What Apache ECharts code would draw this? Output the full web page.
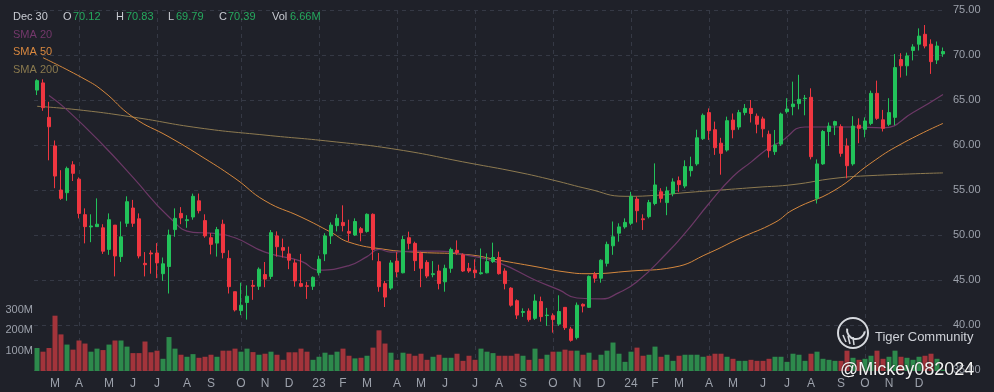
<!DOCTYPE html>
<html><head><meta charset="utf-8">
<script src="https://cdn.jsdelivr.net/npm/echarts@6/dist/echarts.min.js"></script>
<style>html,body{margin:0;padding:0;background:#1f2129;}#c{width:994px;height:392px;}</style>
</head><body><div id="c"></div>
<script>
// ---- categories: weekly candles, first week starting Mon 2022-02-07 ----
const firstWeek = Date.UTC(2022, 1, 7);
const weekCount = 152;
const weeks = [];
for (let k = 0; k < weekCount; k++) weeks.push(new Date(firstWeek + k * 7 * 86400000).toISOString().slice(0, 10));
const monthLetters = ['J','F','M','A','M','J','J','A','S','O','N','D'];

// ---- OHLC ----
const opens = [66.1,66.9,63.07,59.9,55.0,54.7,57.8,56.2,52.26,50.9,50.93,50.8,48.4,51.1,47.6,51.3,53.0,51.8,46.85,48.0,48.0,45.7,46.5,50.6,52.4,51.6,52.0,53.8,51.6,49.7,
49.1,51.2,47.4,43.7,41.6,42.5,44.4,44.3,45.6,45.4,49.9,48.6,47.9,46.9,44.6,44.35,44.3,45.8,47.9,49.9,51.04,51.4,50.4,50.0,50.7,50.4,52.3,47.04,44.6,44.1,
47.1,45.8,49.7,49.07,47.96,46.96,45.6,46.0,44.8,46.3,48.3,47.8,46.3,46.1,45.7,45.8,47.04,47.5,46.0,44.1,42.7,41.4,41.56,40.74,42.6,41.05,41.04,40.1,41.96,39.56,
38.6,42.3,41.96,45.6,45.2,46.85,48.8,50.2,50.9,51.3,53.99,51.8,52.04,53.5,54.8,53.6,54.6,56.04,55.44,57.15,57.9,60.7,63.6,61.7,60.2,59.44,62.77,62.0,63.6,64.07,
63.2,62.9,61.2,59.26,60.1,63.7,64.26,64.6,65.15,65.3,54.07,57.9,61.5,62.2,62.04,59.9,57.9,62.2,61.74,62.4,65.74,62.8,62.3,63.07,69.5,68.8,70.5,71.2,72.3,71.2,
69.44,70.12];
const closes = [67.15,64.15,62.03,56.55,54.07,57.4,56.85,52.4,50.93,51.0,51.2,48.2,51.7,47.67,49.8,53.7,51.3,47.67,46.7,47.9,46.9,46.8,50.0,51.85,51.9,51.7,54.3,52.7,49.9,48.96,
50.6,48.04,44.26,41.67,42.2,43.2,44.3,46.2,45.1,50.26,48.7,48.3,47.2,44.9,44.3,44.3,45.3,47.3,49.9,51.1,51.85,51.04,50.2,51.5,50.26,52.3,48.4,44.26,43.1,46.9,
45.9,49.5,49.07,47.15,46.3,45.44,45.7,44.6,46.3,48.4,48.04,46.0,46.0,45.8,45.8,47.04,47.5,45.7,44.6,42.2,41.1,41.5,40.6,42.67,40.93,41.1,40.6,41.5,39.7,38.3,
42.2,42.1,45.4,45.2,47.2,48.96,49.8,50.9,51.4,54.3,52.7,51.7,53.6,55.56,54.07,54.9,55.9,55.6,57.6,57.6,60.8,63.3,61.6,59.7,59.07,62.7,61.7,63.6,64.07,63.5,
62.3,61.8,59.37,60.0,63.44,64.0,64.55,65.07,65.2,58.7,57.9,61.5,62.1,62.6,59.07,57.7,62.1,61.85,62.67,65.74,62.96,61.85,63.6,68.6,68.8,69.9,70.9,72.1,71.0,69.26,
71.0,70.39];
const lows = [65.55,63.8,58.3,55.2,53.9,53.8,56.0,51.85,49.07,49.2,50.9,47.9,47.8,45.4,47.0,50.9,50.9,47.4,45.4,45.7,45.2,44.9,43.5,49.8,51.2,50.8,51.7,52.4,49.7,47.85,
47.6,47.4,43.5,41.5,41.1,40.6,42.8,43.9,44.2,45.1,47.6,47.5,46.2,44.26,44.2,42.9,43.9,45.5,47.1,49.0,50.4,50.4,49.3,49.9,49.3,50.26,47.2,43.7,42.0,43.9,
45.3,45.74,48.4,46.0,44.2,45.2,45.3,43.96,43.7,45.8,47.8,45.9,45.8,45.2,45.6,45.74,46.9,45.6,43.96,42.04,40.67,40.9,40.37,40.56,40.37,39.9,39.15,39.9,39.45,38.15,
38.4,41.4,41.9,44.7,44.7,46.5,47.8,49.26,50.7,51.1,51.4,50.56,51.85,53.3,53.6,52.2,54.3,54.8,55.2,56.5,57.7,60.56,60.56,58.9,56.7,59.26,60.74,61.7,63.3,62.5,
61.3,60.85,58.6,58.9,59.9,63.5,63.3,63.96,63.3,58.4,53.5,57.8,59.9,61.1,58.7,56.3,57.7,60.2,60.85,62.2,62.8,61.5,62.1,62.2,67.5,67.7,69.4,70.5,70.74,67.9,
69.0,69.79];
const highs = [67.3,67.3,64.8,60.5,57.2,57.6,58.2,56.4,52.96,52.3,54.07,51.2,52.4,51.1,51.5,54.3,53.9,52.4,48.1,48.3,49.1,47.5,50.6,52.96,53.1,52.2,54.6,54.6,52.3,50.2,
50.9,51.7,48.3,43.7,44.7,44.4,45.0,46.4,47.0,50.55,50.4,49.6,48.7,47.3,47.9,44.8,45.4,47.7,50.2,51.4,52.3,53.3,51.7,51.85,50.9,52.4,52.4,48.0,44.9,47.2,
48.1,49.9,50.37,49.26,48.15,47.2,47.1,46.7,46.7,48.6,49.4,47.96,46.9,47.3,48.5,47.96,49.15,48.15,46.3,44.2,42.85,41.85,41.85,43.4,43.15,41.9,41.3,43.3,42.0,39.8,
42.5,42.4,45.5,45.9,47.3,49.26,51.5,51.3,51.85,54.8,54.26,52.3,53.9,57.96,55.2,55.37,56.3,56.5,58.3,58.7,61.7,63.5,64.07,62.6,60.8,63.15,63.5,63.9,64.55,65.0,
63.5,63.15,61.6,61.67,63.6,65.2,67.04,67.8,65.56,66.3,58.4,61.67,62.5,62.7,62.3,60.74,63.2,62.96,63.07,66.04,67.15,63.9,65.2,70.1,70.2,70.26,71.2,72.96,73.33,71.74,
71.5,70.83];
// ---- weekly volume, millions ----
const volumes = [113,95,113,272,180,130,105,150,135,95,110,103,130,150,150,120,88,88,145,92,100,60,167,110,80,70,83,65,70,80,
70,100,100,110,95,110,93,80,85,95,80,55,92,92,110,95,55,70,90,80,95,110,75,62,65,75,115,200,135,90,
55,90,85,75,85,55,70,80,65,65,85,50,75,55,110,95,88,75,75,75,85,75,55,110,60,80,95,95,105,100,
100,80,90,55,80,100,140,85,45,95,115,75,80,120,70,80,50,75,80,80,80,70,75,85,85,70,60,50,50,55,
50,50,60,70,70,45,85,80,50,85,95,60,55,50,50,100,65,55,60,75,100,60,70,100,70,65,55,70,75,85,
60,6.66];
// ---- moving averages read at sampled weeks: [week index, value] ----
const sma20Points = [[2,65.5],[5,63.9],[11,60.0],[16,56.4],[22,52.0],[26,50.3],[29,50.2],[33,49.7],[38,48.1],[44,47.1],[47,46.1],[52,46.6],[55,47.6],[57,48.4],[59,48.1],[63,48.2],[67,48.2],[72,47.7],[77,46.9],[83,45.0],[87,43.9],[90,43.0],[94,42.9],[97,43.6],[100,44.8],[105,48.0],[108,50.2],[112,53.5],[116,56.5],[119,58.1],[122,59.7],[124,60.4],[128,62.0],[136,62.0],[141,61.9],[146,63.6],[151,65.6]];
const sma50Points = [[1,69.7],[8,67.3],[11,66.0],[16,63.1],[22,60.9],[27,58.9],[33,56.3],[38,53.8],[44,52.0],[49,50.3],[52,49.2],[58,48.4],[63,48.1],[72,47.8],[77,47.2],[83,46.5],[88,45.9],[92,45.7],[99,46.0],[106,46.4],[112,48.0],[117,49.6],[123,51.4],[126,52.8],[133,55.0],[139,58.0],[144,60.1],[151,62.4]];
const sma200Points = [[0,64.3],[7,63.9],[16,63.1],[27,61.9],[38,61.1],[49,60.4],[60,59.5],[72,58.0],[80,57.0],[86,56.1],[92,55.1],[98,54.3],[103,54.4],[108,54.7],[114,55.0],[120,55.3],[126,55.6],[133,56.3],[139,56.6],[151,56.9]];
const priceTicks = [35,40,45,50,55,60,65,70,75];
const volumeTicks = [100,200,300];

// ---- build ----
const UP = '#22c25a', DOWN = '#ef3640', UPV = '#2d8a4c', DOWNV = '#a3343b';
const BG = '#1f2129', AXIS_TXT = '#9ca1ab', GRIDC = '#353945';
const FONT = '"Liberation Sans", Arial, sans-serif';
const candleData = opens.map((o, i) => [o, closes[i], lows[i], highs[i]]);
const volData = volumes.map((v, i) => ({value: v, itemStyle: {color: closes[i] >= opens[i] ? UPV : DOWNV}}));
function sparse(points) { const a = new Array(weekCount).fill(null); points.forEach(p => a[p[0]] = p[1]); return a; }
function fridayMonth(i) { const d = new Date(firstWeek + i * 7 * 86400000 + 4 * 86400000); return d.getUTCMonth(); }
function fridayYear(i) { const d = new Date(firstWeek + i * 7 * 86400000 + 4 * 86400000); return d.getUTCFullYear(); }
const last = weekCount - 1;
function isMonthStart(i) { return i > 0 && i < last && fridayMonth(i) !== fridayMonth(i - 1); }
function monthLabel(i) { const m = fridayMonth(i); return m === 0 ? String(fridayYear(i)).slice(2) : monthLetters[m]; }

const chart = echarts.init(document.getElementById('c'), null, {renderer: 'canvas'});
const hdrY = 17;
function txt(x, y, s, color, size, extra) {
  return Object.assign({type: 'text', x: x, y: y, silent: true, z: 100,
    style: Object.assign({text: s, fill: color, font: (size || 11) + 'px ' + FONT, textVerticalAlign: 'middle', verticalAlign: 'middle'}, extra || {})});
}
const HDR = '#c9ccd3', GV = '#26a95e';
const graphics = [
  txt(13, hdrY, 'Dec 30', HDR),
  txt(63, hdrY, 'O', HDR), txt(73, hdrY, opens[last].toFixed(2), GV),
  txt(116, hdrY, 'H', HDR), txt(126, hdrY, highs[last].toFixed(2), GV),
  txt(168, hdrY, 'L', HDR), txt(176, hdrY, lows[last].toFixed(2), GV),
  txt(219, hdrY, 'C', HDR), txt(228, hdrY, closes[last].toFixed(2), GV),
  txt(272, hdrY, 'Vol', HDR), txt(290, hdrY, volumes[last].toFixed(2) + 'M', GV),
  txt(13, 35, 'SMA 20', '#74386b'),
  txt(13, 52, 'SMA 50', '#d9883f'),
  txt(13, 70, 'SMA 200', '#8a7a4e'),
  // watermark logo
  {type: 'circle', shape: {cx: 853, cy: 333, r: 15}, silent: true, z: 100, style: {fill: 'none', stroke: '#d6d9de', lineWidth: 2}},
  {type: 'arc', shape: {cx: 856, cy: 330, r: 9, startAngle: Math.PI * 0.05, endAngle: Math.PI * 1.05}, silent: true, z: 100, style: {fill: 'none', stroke: '#d6d9de', lineWidth: 2}},
  {type: 'polyline', shape: {points: [[843, 335], [846, 342]]}, silent: true, z: 100, style: {stroke: '#d6d9de', lineWidth: 1.5}},
  {type: 'polyline', shape: {points: [[848, 336], [850, 344]]}, silent: true, z: 100, style: {stroke: '#d6d9de', lineWidth: 1.5}},
  {type: 'polyline', shape: {points: [[853, 337], [854, 345]]}, silent: true, z: 100, style: {stroke: '#d6d9de', lineWidth: 1.5}},
  txt(875, 337, 'Tiger Community', '#cfd2d8', 13),
  txt(840, 370, '@Mickey082024', '#f2f2f2', 18, {textShadowColor: 'rgba(0,0,0,0.6)', textShadowBlur: 2})
];

const option = {
  backgroundColor: BG,
  animation: false,
  textStyle: {fontFamily: FONT},
  graphic: graphics,
  grid: [
    {left: 34, right: 48, top: 10, bottom: 22},
    {left: 34, right: 48, top: 310, bottom: 21}
  ],
  xAxis: [
    {type: 'category', gridIndex: 0, data: weeks, boundaryGap: true,
      axisLine: {show: false}, axisTick: {show: false}, axisLabel: {show: false},
      splitLine: {show: true, alignWithLabel: true, interval: (i) => isMonthStart(i) && fridayMonth(i) % 3 === 0,
        lineStyle: {color: GRIDC, type: [4, 4], width: 1}}},
    {type: 'category', gridIndex: 1, data: weeks, boundaryGap: true,
      axisLine: {show: false}, axisTick: {show: false}, splitLine: {show: false},
      axisLabel: {color: AXIS_TXT, fontSize: 12, margin: 7, interval: (i) => isMonthStart(i),
        formatter: (v, i) => monthLabel(i)}}
  ],
  yAxis: [
    {type: 'value', gridIndex: 0, position: 'right', min: priceTicks[0], max: priceTicks[priceTicks.length - 1], interval: 5,
      axisLine: {show: false}, axisTick: {show: false},
      axisLabel: {color: AXIS_TXT, fontSize: 11, margin: 7, formatter: v => v.toFixed(2)},
      splitLine: {show: true, lineStyle: {color: GRIDC, type: [4, 4], width: 1}}},
    {type: 'value', gridIndex: 1, position: 'left', min: 0, max: volumeTicks[volumeTicks.length - 1], interval: 100,
      axisLine: {show: false}, axisTick: {show: false}, splitLine: {show: false},
      axisLabel: {color: AXIS_TXT, fontSize: 11, margin: 1, formatter: v => v === 0 ? '' : v + 'M'}}
  ],
  series: [
    {type: 'bar', xAxisIndex: 1, yAxisIndex: 1, data: volData, barWidth: 5, silent: true, z: 1},
    {type: 'line', xAxisIndex: 0, yAxisIndex: 0, data: sparse(sma200Points), connectNulls: true, smooth: true, symbol: 'none',
      lineStyle: {color: '#8d7a50', width: 1}, silent: true, z: 2},
    {type: 'line', xAxisIndex: 0, yAxisIndex: 0, data: sparse(sma50Points), connectNulls: true, smooth: true, symbol: 'none',
      lineStyle: {color: '#d4873d', width: 1}, silent: true, z: 2},
    {type: 'line', xAxisIndex: 0, yAxisIndex: 0, data: sparse(sma20Points), connectNulls: true, smooth: true, symbol: 'none',
      lineStyle: {color: '#6c3866', width: 1.2}, silent: true, z: 2},
    {type: 'candlestick', xAxisIndex: 0, yAxisIndex: 0, data: candleData, barWidth: 4, z: 3, silent: true,
      itemStyle: {color: UP, color0: DOWN, borderColor: UP, borderColor0: DOWN, borderWidth: 1},
      markLine: {silent: true, symbol: ['none', 'none'], lineStyle: {opacity: 0}, animation: false,
        data: [{yAxis: closes[last]}],
        label: {position: 'end', distance: 5, formatter: closes[last].toFixed(2), backgroundColor: '#f2c844', color: '#1c1c1c',
          padding: [2, 2, 1, 2], fontSize: 11, fontFamily: FONT}}}
  ]
};
chart.setOption(option);
</script></body></html>
